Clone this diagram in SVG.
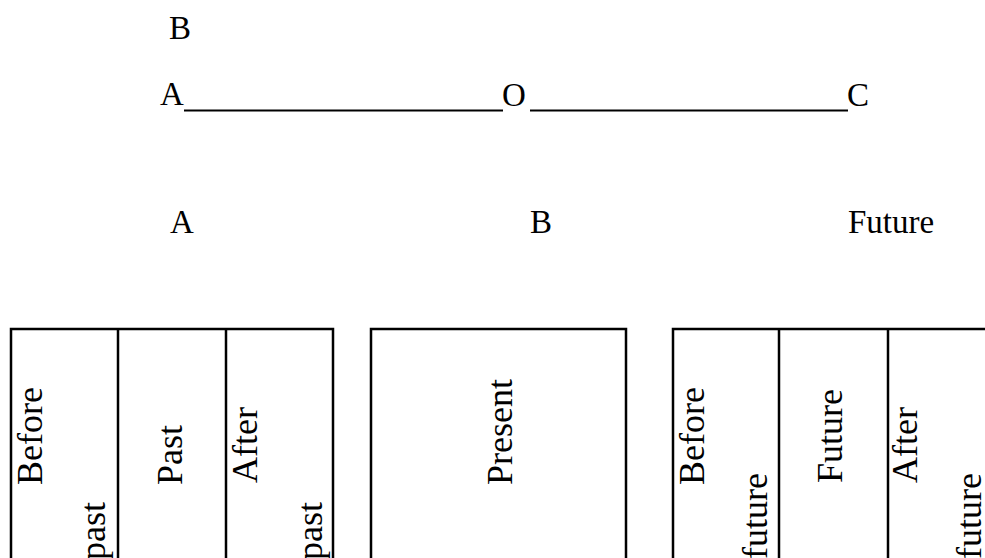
<svg xmlns="http://www.w3.org/2000/svg" width="985" height="558" viewBox="0 0 985 558">
<style>
.t{font-family:"Liberation Serif","Times New Roman",serif;font-size:33px;fill:#000}
.v{font-family:"Liberation Serif","Times New Roman",serif;font-size:36px;fill:#000}
.ln{stroke:#000;stroke-width:2.2;fill:none}
.bx{stroke:#000;stroke-width:2.5;fill:#fff}
</style>
<rect width="985" height="558" fill="#fff"/>
<g id="top-labels">
<text class="t" x="169" y="39">B</text>
<text class="t" x="160" y="105">A</text>
<text class="t" x="502" y="106">O</text>
<text class="t" x="847" y="106">C</text>
</g>
<g id="connectors">
<line class="ln" x1="184" y1="110.5" x2="503" y2="110.5"/>
<line class="ln" x1="530" y1="110.5" x2="848" y2="110.5"/>
</g>
<g id="mid-labels">
<text class="t" x="170" y="233">A</text>
<text class="t" x="530" y="233">B</text>
<text class="t" x="848" y="233">Future</text>
</g>
<g id="past-box">
<rect class="bx" x="11" y="329" width="322" height="260"/>
<line class="ln" x1="118" y1="329" x2="118" y2="560" style="stroke-width:2.5"/>
<line class="ln" x1="226" y1="329" x2="226" y2="560" style="stroke-width:2.5"/>
<text class="v" transform="translate(42,485) rotate(-90)">Before</text>
<text class="v" transform="translate(105,560) rotate(-90)">past</text>
<text class="v" transform="translate(182,485) rotate(-90)">Past</text>
<text class="v" transform="translate(257,483) rotate(-90)">After</text>
<text class="v" transform="translate(322,560) rotate(-90)">past</text>
</g>
<g id="present-box">
<rect class="bx" x="371" y="329" width="255" height="260"/>
<text class="v" transform="translate(512,485) rotate(-90)">Present</text>
</g>
<g id="future-box">
<rect class="bx" x="673" y="329" width="330" height="260"/>
<line class="ln" x1="779" y1="329" x2="779" y2="560" style="stroke-width:2.5"/>
<line class="ln" x1="888" y1="329" x2="888" y2="560" style="stroke-width:2.5"/>
<text class="v" transform="translate(704,485) rotate(-90)">Before</text>
<text class="v" transform="translate(767,559) rotate(-90)">future</text>
<text class="v" transform="translate(842,483) rotate(-90)">Future</text>
<text class="v" transform="translate(917,483) rotate(-90)">After</text>
<text class="v" transform="translate(981,559) rotate(-90)">future</text>
</g>
</svg>
